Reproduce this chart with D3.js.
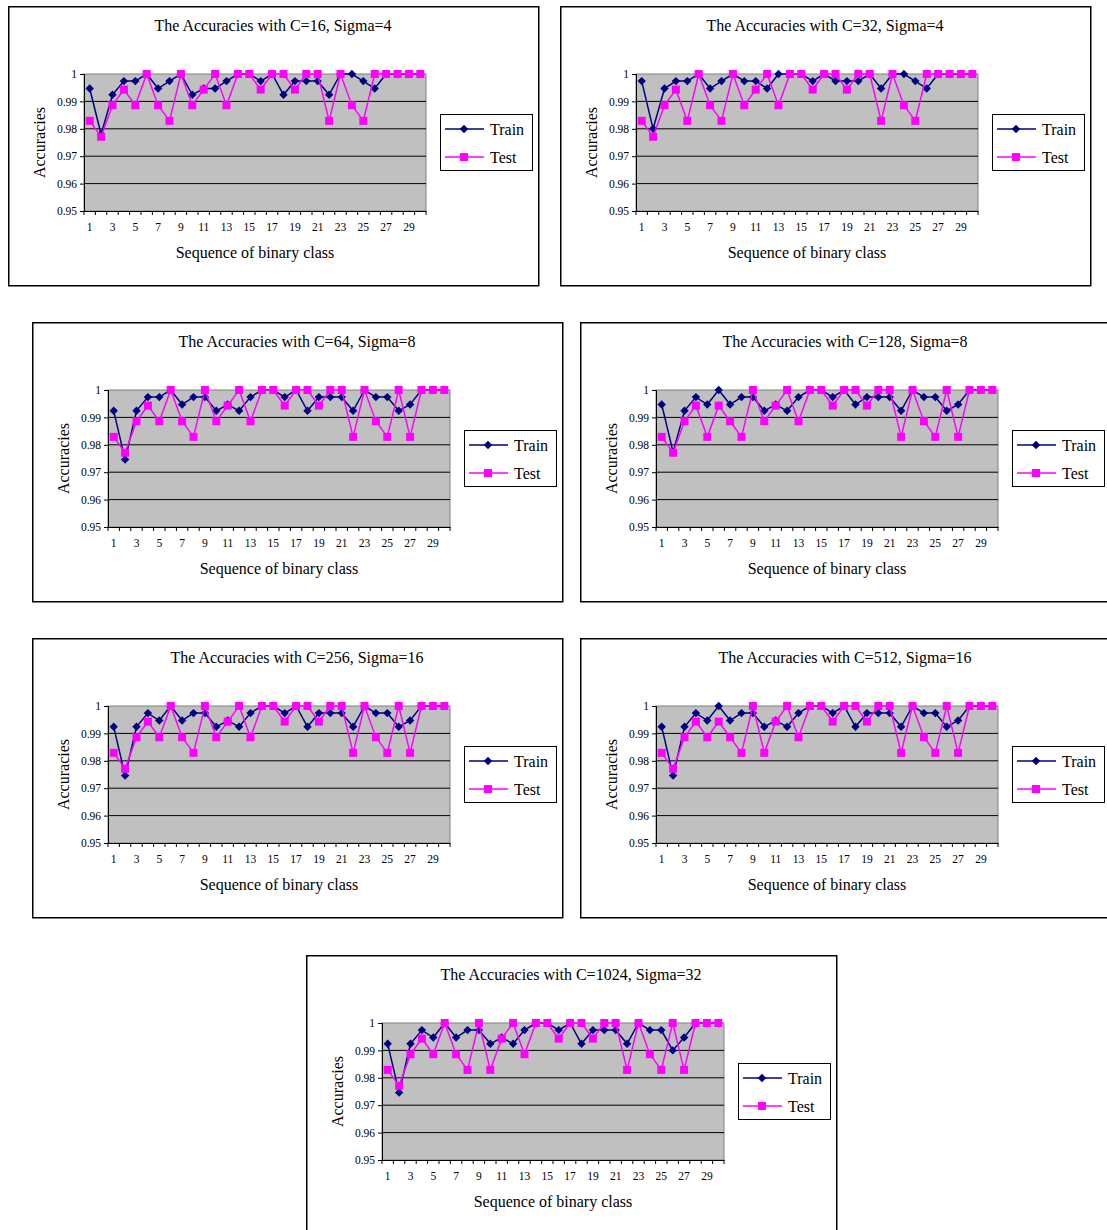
<!DOCTYPE html>
<html>
<head>
<meta charset="utf-8">
<script src="https://cdn.jsdelivr.net/npm/d3@7"></script>
<style>
  body { margin: 0; background: #fff; }
  text { font-family: "Liberation Serif", "Times New Roman", serif; }
</style>
</head>
<body>
<div id="chart"></div>
<script>
// categories and ticks
const categories = [1,2,3,4,5,6,7,8,9,10,11,12,13,14,15,16,17,18,19,20,21,22,23,24,25,26,27,28,29,30];
const xTickLabels = [1,3,5,7,9,11,13,15,17,19,21,23,25,27,29];
const yTicks = [0.95, 0.96, 0.97, 0.98, 0.99, 1];
const seriesNames = ["Train", "Test"];

const titles = [
  "The Accuracies with C=16, Sigma=4",
  "The Accuracies with C=32, Sigma=4",
  "The Accuracies with C=64, Sigma=8",
  "The Accuracies with C=128, Sigma=8",
  "The Accuracies with C=256, Sigma=16",
  "The Accuracies with C=512, Sigma=16",
  "The Accuracies with C=1024, Sigma=32"
];

const trainC16 = [0.9947,0.9780,0.9924,0.9974,0.9974,1,0.9947,0.9974,1,0.9924,0.9947,0.9947,0.9974,1,1,0.9974,1,0.9924,0.9974,0.9974,0.9974,0.9924,1,1,0.9974,0.9947,1,1,1,1];
const testC16  = [0.9829,0.9771,0.9886,0.9943,0.9886,1,0.9886,0.9829,1,0.9886,0.9943,1,0.9886,1,1,0.9943,1,1,0.9943,1,1,0.9829,1,0.9886,0.9829,1,1,1,1,1];

const trainC32 = [0.9974,0.9800,0.9947,0.9974,0.9974,1,0.9947,0.9974,1,0.9974,0.9974,0.9947,1,1,1,0.9974,1,0.9974,0.9974,0.9974,1,0.9947,1,1,0.9974,0.9947,1,1,1,1];
const testC32  = [0.9829,0.9771,0.9886,0.9943,0.9829,1,0.9886,0.9829,1,0.9886,0.9943,1,0.9886,1,1,0.9943,1,1,0.9943,1,1,0.9829,1,0.9886,0.9829,1,1,1,1,1];

const trainC64 = [0.9924,0.9746,0.9924,0.9974,0.9974,1,0.9947,0.9974,0.9974,0.9924,0.9947,0.9924,0.9974,1,1,0.9974,1,0.9924,0.9974,0.9974,0.9974,0.9924,1,0.9974,0.9974,0.9924,0.9947,1,1,1];
const testC64  = [0.9829,0.9771,0.9886,0.9943,0.9886,1,0.9886,0.9829,1,0.9886,0.9943,1,0.9886,1,1,0.9943,1,1,0.9943,1,1,0.9829,1,0.9886,0.9829,1,0.9829,1,1,1];

const trainC128 = [0.9947,0.9773,0.9924,0.9974,0.9947,1,0.9947,0.9974,0.9974,0.9924,0.9947,0.9924,0.9974,1,1,0.9974,1,0.9947,0.9974,0.9974,0.9974,0.9924,1,0.9974,0.9974,0.9924,0.9947,1,1,1];
const testC128  = [0.9829,0.9771,0.9886,0.9943,0.9829,0.9943,0.9886,0.9829,1,0.9886,0.9943,1,0.9886,1,1,0.9943,1,1,0.9943,1,1,0.9829,1,0.9886,0.9829,1,0.9829,1,1,1];

const trainC256 = [0.9924,0.9746,0.9924,0.9974,0.9947,1,0.9947,0.9974,0.9974,0.9924,0.9947,0.9924,0.9974,1,1,0.9974,1,0.9924,0.9974,0.9974,0.9974,0.9924,1,0.9974,0.9974,0.9924,0.9947,1,1,1];
const testC256  = [0.9829,0.9771,0.9886,0.9943,0.9886,1,0.9886,0.9829,1,0.9886,0.9943,1,0.9886,1,1,0.9943,1,1,0.9943,1,1,0.9829,1,0.9886,0.9829,1,0.9829,1,1,1];

const trainC512 = [0.9924,0.9746,0.9924,0.9974,0.9947,1,0.9947,0.9974,0.9974,0.9924,0.9947,0.9924,0.9974,1,1,0.9974,1,0.9924,0.9974,0.9974,0.9974,0.9924,1,0.9974,0.9974,0.9924,0.9947,1,1,1];
const testC512  = [0.9829,0.9771,0.9886,0.9943,0.9886,0.9943,0.9886,0.9829,1,0.9829,0.9943,1,0.9886,1,1,0.9943,1,1,0.9943,1,1,0.9829,1,0.9886,0.9829,1,0.9829,1,1,1];

const trainC1024 = [0.9924,0.9746,0.9924,0.9974,0.9947,1,0.9947,0.9974,0.9974,0.9924,0.9947,0.9924,0.9974,1,1,0.9974,1,0.9924,0.9974,0.9974,0.9974,0.9924,1,0.9974,0.9974,0.9900,0.9947,1,1,1];
const testC1024  = [0.9829,0.9771,0.9886,0.9943,0.9886,1,0.9886,0.9829,1,0.9829,0.9943,1,0.9886,1,1,0.9943,1,1,0.9943,1,1,0.9829,1,0.9886,0.9829,1,0.9829,1,1,1];

const trainSeries = [trainC16, trainC32, trainC64, trainC128, trainC256, trainC512, trainC1024];
const testSeries  = [testC16, testC32, testC64, testC128, testC256, testC512, testC1024];

// panel placement on page
const panelPos = [[8, 6], [560, 6], [32, 322], [580, 322], [32, 638], [580, 638], [306, 955]];

const W = 1107, H = 1230;
const panelW = 530, panelH = 279;
const plot = { left: 76, top: 68, width: 342, height: 137 };
const colors = { Train: "#000080", Test: "#ff00ff" };

const svg = d3.select("#chart").append("svg")
    .attr("width", W)
    .attr("height", H);

function diamond(r) { return `M0,${-r}L${r},0L0,${r}L${-r},0Z`; }

function drawMarker(sel, name) {
    if (name === "Train") {
        sel.append("path").attr("d", diamond(4.2)).attr("fill", colors.Train);
    } else {
        sel.append("rect").attr("x", -4).attr("y", -4).attr("width", 8).attr("height", 8)
            .attr("fill", colors.Test);
    }
}

titles.forEach((title, i) => {
    let [px, py] = panelPos[i];
    let p = svg.append("g").attr("transform", `translate(${px},${py})`);

    // frame
    p.append("rect")
        .attr("x", 0.75).attr("y", 0.75)
        .attr("width", panelW).attr("height", panelH)
        .attr("fill", "#fff").attr("stroke", "#000").attr("stroke-width", 1.5);

    p.append("text")
        .attr("x", panelW / 2).attr("y", 25)
        .attr("text-anchor", "middle")
        .style("font-size", "16px")
        .text(title);

    let x = d3.scaleBand().domain(categories).range([0, plot.width]);
    let y = d3.scaleLinear().domain([0.95, 1]).range([plot.height, 0]);
    let cx = d => x(d) + x.bandwidth() / 2;

    let g = p.append("g").attr("transform", `translate(${plot.left},${plot.top})`);

    g.append("rect")
        .attr("width", plot.width).attr("height", plot.height)
        .attr("fill", "#c0c0c0").attr("stroke", "#808080").attr("stroke-width", 1);

    // grid lines
    g.selectAll(".grid")
        .data(yTicks.filter(t => t > 0.95 && t < 1))
        .enter().append("line")
        .attr("x1", 0).attr("x2", plot.width)
        .attr("y1", d => y(d)).attr("y2", d => y(d))
        .attr("stroke", "#000").attr("stroke-width", 1);

    // y axis
    let ya = g.append("g")
        .call(d3.axisLeft(y).tickValues(yTicks).tickSize(4).tickPadding(3).tickFormat(d3.format("")));
    ya.select(".domain").attr("stroke", "#000");
    ya.selectAll("text").style("font-size", "11.5px").style("font-family", "Liberation Serif, serif");

    // x axis: labels at centres, tick marks between categories
    let xa = g.append("g")
        .attr("transform", `translate(0,${plot.height})`)
        .call(d3.axisBottom(x).tickSize(0).tickPadding(12)
            .tickFormat(d => xTickLabels.includes(d) ? d : ""));
    xa.select(".domain").attr("stroke", "#000");
    xa.selectAll("text").style("font-size", "11.5px").style("font-family", "Liberation Serif, serif");
    xa.selectAll(".sep")
        .data(categories.concat(["end"]))
        .enter().append("line")
        .attr("x1", d => d === "end" ? plot.width : x(d))
        .attr("x2", d => d === "end" ? plot.width : x(d))
        .attr("y1", 0).attr("y2", 4)
        .attr("stroke", "#000");

    // axis titles
    p.append("text")
        .attr("x", plot.left + plot.width / 2).attr("y", 252)
        .attr("text-anchor", "middle")
        .style("font-size", "16px")
        .text("Sequence of binary class");

    p.append("text")
        .attr("transform", `translate(37,${plot.top + plot.height / 2}) rotate(-90)`)
        .attr("text-anchor", "middle")
        .style("font-size", "16px")
        .text("Accuracies");

    // series
    let line = d3.line().x((d, k) => cx(categories[k])).y(d => y(d));
    [["Train", trainSeries[i]], ["Test", testSeries[i]]].forEach(([name, vals]) => {
        g.append("path")
            .datum(vals)
            .attr("d", line)
            .attr("fill", "none")
            .attr("stroke", colors[name])
            .attr("stroke-width", 1.5);
        vals.forEach((v, k) => {
            let m = g.append("g").attr("transform", `translate(${cx(categories[k])},${y(v)})`);
            drawMarker(m, name);
        });
    });

    // legend
    let lg = p.append("g").attr("transform", "translate(432,108)");
    lg.append("rect")
        .attr("x", 0.5).attr("y", 0.5).attr("width", 92).attr("height", 56)
        .attr("fill", "#fff").attr("stroke", "#000").attr("stroke-width", 1);
    seriesNames.forEach((name, k) => {
        let row = lg.append("g").attr("transform", `translate(0,${15 + k * 28})`);
        row.append("line")
            .attr("x1", 5).attr("x2", 44)
            .attr("stroke", colors[name]).attr("stroke-width", 1.5);
        let m = row.append("g").attr("transform", "translate(24,0)");
        drawMarker(m, name);
        row.append("text")
            .attr("x", 50).attr("y", 5.5)
            .style("font-size", "16px")
            .text(name);
    });
});
</script>
</body>
</html>
